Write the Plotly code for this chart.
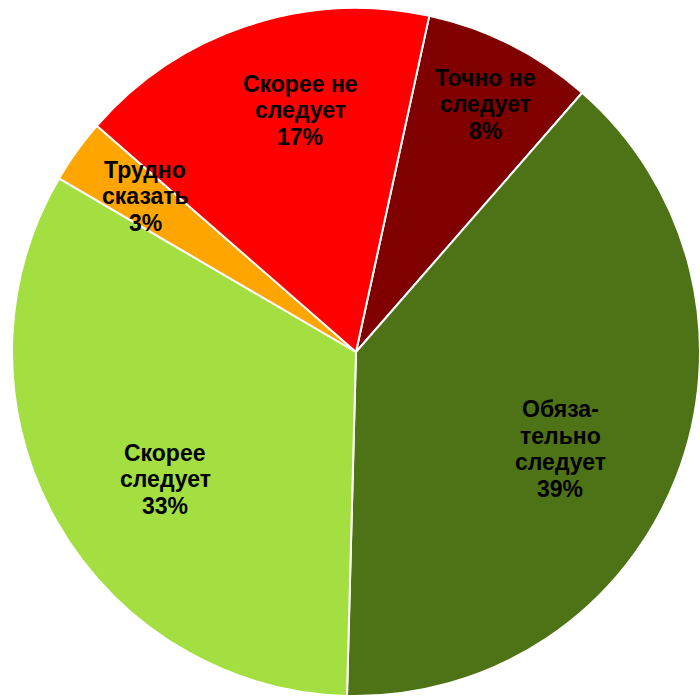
import plotly.graph_objects as go

# Данные (по часовой стрелке, начиная с "Точно не следует")
labels = ["Точно не следует", "Обязательно следует", "Скорее следует",
          "Трудно сказать", "Скорее не следует"]
values = [8, 39, 33, 3, 17]
colors = ["#800000", "#4E7216", "#A3DF40", "#FFA500", "#FF0000"]

# Подписи внутри секторов (как на оригинале), построчно
text_lines = [
    ["Точно не", "следует", "8%"],
    ["Обяза-", "тельно", "следует", "39%"],
    ["Скорее", "следует", "33%"],
    ["Трудно", "сказать", "3%"],
    ["Скорее не", "следует", "17%"],
]
# центры подписей, px
text_xy = [(485, 104), (560, 449), (165, 479), (145, 196), (300, 110)]

W, H = 700, 698
LINE = 26.5  # межстрочный интервал, px

fig = go.Figure(go.Pie(
    labels=labels,
    values=values,
    sort=False,
    direction="clockwise",
    rotation=12.3,
    marker=dict(colors=colors, line=dict(color="white", width=2)),
    textinfo="none",
    hoverinfo="label+percent",
    domain=dict(x=[12 / W, 1.0], y=[0.0, 692 / H]),
    showlegend=False,
))

for lines, (px, py) in zip(text_lines, text_xy):
    n = len(lines)
    for i, line in enumerate(lines):
        fig.add_annotation(
            x=px / W, y=1 - py / H,
            xref="paper", yref="paper",
            xanchor="center", yanchor="middle",
            yshift=((n - 1) / 2 - i) * LINE,
            text=f"<b>{line}</b>",
            showarrow=False,
            font=dict(family="Liberation Sans, Arial, sans-serif", size=23, color="black"),
        )

fig.update_layout(
    width=W,
    height=H,
    margin=dict(l=0, r=0, t=0, b=0),
    paper_bgcolor="white",
    plot_bgcolor="white",
)

fig.write_html(
    "out.html",
    config={"displayModeBar": False},
    post_script="document.body.style.margin='0';",
)
